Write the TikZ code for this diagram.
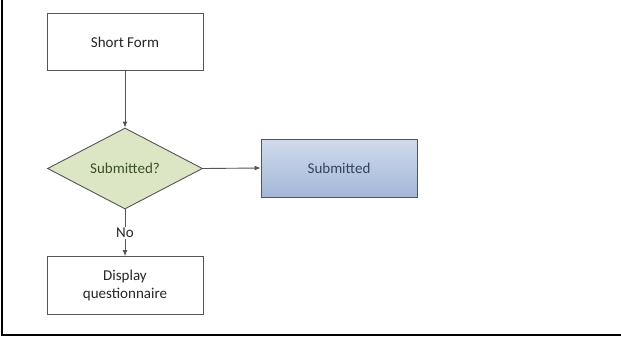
\documentclass[tikz,border=0pt]{standalone}
\usepackage{fontspec}
\setmainfont{Carlito}
\usetikzlibrary{shapes.geometric,arrows.meta}
\definecolor{lineg}{HTML}{555555}
\definecolor{dfill}{HTML}{DCE6C5}
\definecolor{dtext}{HTML}{3B4F27}
\definecolor{btop}{HTML}{D0DBEB}
\definecolor{bbot}{HTML}{A3B7D8}
\definecolor{btext}{HTML}{34445E}
\tikzset{
  lbl/.style={font=\fontsize{15}{18}\selectfont},
  procbox/.style={lbl, draw=lineg, line width=0.9pt, fill=white, minimum width=156pt, minimum height=57pt, inner sep=0pt, align=center, text=black!85},
  decbox/.style={lbl, draw=lineg, line width=0.9pt, fill=dfill, diamond, aspect=1.92, minimum width=155pt, minimum height=81pt, inner sep=0pt, text=dtext},
  bluebox/.style={lbl, draw=lineg, line width=0.9pt, top color=btop, bottom color=bbot, minimum width=156pt, minimum height=58pt, inner sep=0pt, text=btext},
  conn/.style={draw=lineg, line width=0.9pt, -{Latex[length=6pt,width=5pt]}},
}
\begin{document}
\begin{tikzpicture}[x=1pt,y=-1pt]
\useasboundingbox (0,0) rectangle (621,337);
\fill[white] (0,0) rectangle (621,337);
\draw[black, line width=1.5pt] (2,0) -- (2,335) -- (621,335);
\node[procbox] (sf) at (125,42) {Short Form};
\node[decbox] (dec) at (125,168.5) {Submitted?};
\node[bluebox] (sub) at (339,168) {Submitted};
\node[procbox, minimum height=58pt] (disp) at (125,285.5) {Display\\questionnaire};
\node[lbl, text=black!85, fill=white, inner sep=1pt] (no) at (125,233) {No};
\draw[conn] (sf.south) -- (dec.north);
\draw[conn] (dec.east) -- (sub.west);
\draw[draw=lineg, line width=0.9pt] (dec.south) -- (no.north);
\draw[conn] (no.south) -- (disp.north);
\end{tikzpicture}
\end{document}
